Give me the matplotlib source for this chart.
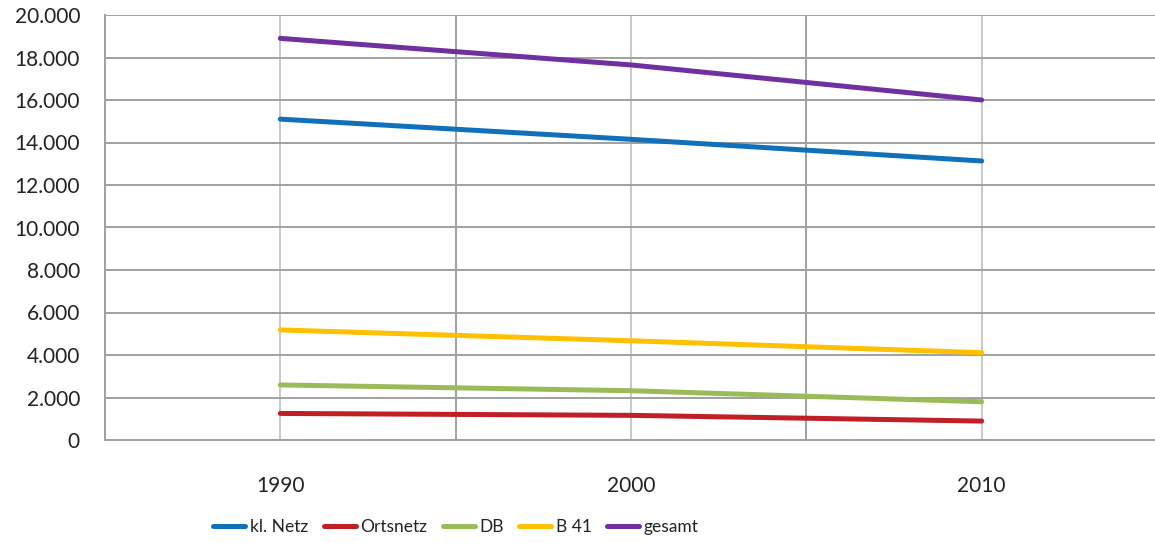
import matplotlib
matplotlib.use("Agg")
import matplotlib.pyplot as plt
from matplotlib.ticker import FixedLocator, FuncFormatter

years = [1990, 2000, 2010]
series_names = ["kl. Netz", "Ortsnetz", "DB", "B 41", "gesamt"]
kl_netz = [15100, 14150, 13130]
ortsnetz = [1250, 1160, 890]
db = [2590, 2320, 1800]
b41 = [5180, 4670, 4110]
gesamt = [18900, 17650, 16000]
colors = ["#1170BA", "#C01F28", "#9BBB59", "#FFC000", "#7030A0"]
yticks = list(range(0, 20001, 2000))
xlabels = ["1990", "2000", "2010"]

plt.rcParams['font.family'] = ['Lato', 'DejaVu Sans']

fig = plt.figure(figsize=(11.55, 5.43), dpi=100)
ax = fig.add_axes([105/1155, 1-440/543, (1157-105)/1155, (440-15)/543])

for vals, name, c in zip([kl_netz, ortsnetz, db, b41, gesamt], series_names, colors):
    ax.plot(years, vals, color=c, lw=3.6, solid_capstyle='round', label=name, zorder=3)

ax.set_xlim(1985, 2015)
ax.set_ylim(0, 20000)
ax.set_yticks(yticks)
ax.yaxis.set_major_formatter(FuncFormatter(lambda v, p: f"{int(v):,}".replace(",", ".")))
ax.set_xticks(years)
ax.set_xticklabels(xlabels)
ax.xaxis.set_minor_locator(FixedLocator([1995, 2005]))
ax.grid(axis='y', color='#A0A0A0', lw=1.4, zorder=1)
ax.grid(axis='x', which='major', color='#C8C8C8', lw=1.4, zorder=1)
ax.grid(axis='x', which='minor', color='#A0A0A0', lw=1.4, zorder=1)
ax.tick_params(axis='both', which='both', length=0, labelsize=15, colors='#222222')
ax.tick_params(axis='y', pad=18)
ax.tick_params(axis='x', pad=26)
for s in ['top', 'right']:
    ax.spines[s].set_visible(False)
for s in ['left', 'bottom']:
    ax.spines[s].set_color('#A0A0A0')
    ax.spines[s].set_linewidth(1.4)

leg = fig.legend(loc='center', bbox_to_anchor=(456/1155, 1-527/543), ncol=5, frameon=False,
                 prop={'size': 12.5},
                 handlelength=1.85, handletextpad=0.25, columnspacing=0.9)
for t in leg.get_texts():
    t.set_color('#222222')

fig.savefig("out.png", dpi=100)
